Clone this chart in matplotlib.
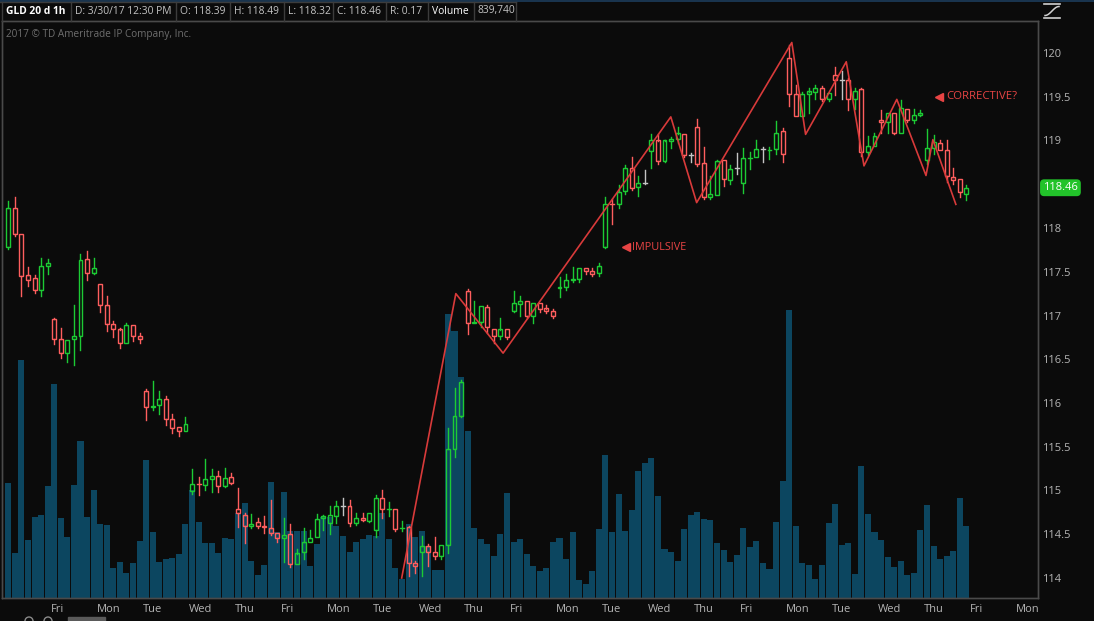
import matplotlib.pyplot as plt
import numpy as np
from matplotlib.patches import Rectangle
from matplotlib.lines import Line2D
import matplotlib.transforms as mtransforms

plt.rcParams['font.family'] = ['Open Sans', 'DejaVu Sans']

# ---- hourly GLD bars ----
opens = [117.78, 118.23, 117.93, 117.46, 117.43, 117.29, 117.57,
         116.96, 116.73, 116.57, 116.73, 116.77, 117.65, 117.49,
         117.36, 117.12, 116.90, 116.84, 116.69, 116.89, 116.77,
         116.14, 115.95, 115.98, 116.05, 115.82, 115.72, 115.68,
         114.99, 115.08, 115.06, 115.13, 115.17, 115.05, 115.15,
         114.79, 114.72, 114.59, 114.64, 114.60, 114.57, 114.51,
         114.46, 114.50, 114.16, 114.30, 114.41, 114.47, 114.69,
         114.63, 114.71, 114.82, 114.82, 114.63, 114.69, 114.65,
         114.55, 114.91, 114.79, 114.79, 114.57, 114.58, 114.17,
         114.30, 114.37, 114.30, 114.25, 114.38, 115.48, 115.85,
         117.28, 116.91, 116.93, 117.10, 116.85, 116.77, 116.84,
         117.05, 117.13, 117.16, 116.99, 117.14, 117.08, 117.05,
         117.31, 117.33, 117.40, 117.42, 117.54, 117.51, 117.49,
         117.78, 118.27, 118.27, 118.42, 118.69, 118.47, 118.52,
         118.88, 119.00, 118.77, 119.00, 119.02, 119.07, 118.83,
         119.16, 118.74, 118.35, 118.38, 118.78, 118.55, 118.68,
         118.51, 118.80, 118.81, 118.90, 118.89, 118.90, 119.11,
         119.94, 119.53, 119.28, 119.53, 119.55, 119.60, 119.48,
         119.75, 119.69, 119.69, 119.47, 119.59, 118.87, 118.94,
         119.23, 119.21, 119.31, 119.09, 119.36, 119.24, 119.29,
         118.78, 118.91, 118.97, 118.89, 118.58, 118.56, 118.39]
highs = [118.31, 118.35, 117.93, 117.55, 117.46, 117.66, 117.65,
         116.97, 116.86, 116.72, 117.12, 117.70, 117.74, 117.66,
         117.36, 117.22, 116.94, 116.86, 116.91, 116.89, 116.80,
         116.16, 116.25, 116.14, 116.08, 115.88, 115.72, 115.84,
         115.25, 115.15, 115.36, 115.25, 115.22, 115.26, 115.20,
         115.03, 114.74, 114.73, 114.69, 114.71, 114.89, 114.51,
         114.68, 114.62, 114.33, 114.57, 114.55, 114.73, 114.72,
         114.82, 114.88, 114.91, 114.89, 114.74, 114.74, 114.74,
         114.95, 115.01, 114.87, 114.79, 114.65, 114.60, 114.20,
         114.48, 114.39, 114.47, 114.38, 115.71, 116.17, 116.26,
         117.30, 117.17, 117.11, 117.12, 116.85, 116.97, 116.84,
         117.28, 117.22, 117.16, 117.14, 117.14, 117.12, 117.07,
         117.44, 117.47, 117.55, 117.54, 117.54, 117.54, 117.60,
         118.35, 118.33, 118.49, 118.72, 118.81, 118.59, 118.66,
         119.08, 119.07, 119.01, 119.04, 119.16, 119.07, 118.86,
         119.25, 118.93, 118.60, 118.78, 118.78, 118.72, 118.86,
         118.92, 118.87, 119.01, 118.93, 118.93, 119.22, 119.14,
         120.09, 119.63, 119.55, 119.60, 119.63, 119.62, 119.54,
         119.84, 119.79, 119.72, 119.60, 119.60, 119.05, 119.09,
         119.35, 119.31, 119.32, 119.46, 119.36, 119.36, 119.35,
         119.13, 119.06, 119.01, 119.01, 118.69, 118.56, 118.49]
lows = [117.76, 117.91, 117.22, 117.34, 117.26, 117.22, 117.48,
        116.67, 116.51, 116.47, 116.44, 116.61, 117.41, 117.47,
        117.04, 116.82, 116.75, 116.63, 116.69, 116.71, 116.68,
        115.81, 115.92, 115.88, 115.75, 115.66, 115.62, 115.68,
        114.96, 114.95, 115.01, 114.98, 114.98, 115.04, 115.07,
        114.58, 114.40, 114.57, 114.57, 114.51, 114.49, 114.41,
        114.18, 114.13, 114.16, 114.22, 114.41, 114.47, 114.55,
        114.50, 114.63, 114.72, 114.59, 114.61, 114.65, 114.64,
        114.47, 114.69, 114.71, 114.54, 114.54, 114.02, 114.06,
        114.02, 114.14, 114.22, 114.22, 114.29, 115.38, 115.84,
        116.79, 116.91, 116.87, 116.80, 116.69, 116.73, 116.73,
        117.04, 116.99, 116.97, 116.91, 117.04, 117.03, 116.97,
        117.21, 117.29, 117.38, 117.38, 117.47, 117.45, 117.45,
        117.77, 118.04, 118.23, 118.39, 118.43, 118.37, 118.50,
        118.68, 118.73, 118.75, 118.91, 118.97, 118.81, 118.76,
        118.71, 118.33, 118.33, 118.38, 118.48, 118.50, 118.62,
        118.40, 118.67, 118.81, 118.75, 118.79, 118.85, 118.75,
        119.40, 119.28, 119.28, 119.32, 119.47, 119.45, 119.45,
        119.52, 119.48, 119.35, 119.36, 118.82, 118.83, 118.94,
        119.09, 119.09, 119.07, 119.09, 119.21, 119.20, 119.28,
        118.73, 118.85, 118.89, 118.53, 118.50, 118.36, 118.32]
closes = [118.23, 117.93, 117.45, 117.41, 117.29, 117.57, 117.60,
          116.73, 116.57, 116.72, 116.76, 117.63, 117.49, 117.54,
          117.12, 116.90, 116.85, 116.68, 116.89, 116.77, 116.73,
          115.95, 115.97, 116.04, 115.82, 115.71, 115.68, 115.76,
          115.07, 115.07, 115.13, 115.17, 115.05, 115.14, 115.09,
          114.74, 114.60, 114.62, 114.60, 114.58, 114.51, 114.46,
          114.49, 114.16, 114.28, 114.41, 114.46, 114.67, 114.71,
          114.72, 114.82, 114.82, 114.63, 114.69, 114.66, 114.74,
          114.91, 114.79, 114.80, 114.56, 114.58, 114.17, 114.14,
          114.37, 114.30, 114.25, 114.38, 115.47, 115.85, 116.24,
          116.91, 116.93, 117.11, 116.87, 116.77, 116.84, 116.75,
          117.14, 117.17, 116.99, 117.14, 117.07, 117.05, 116.99,
          117.33, 117.40, 117.42, 117.54, 117.51, 117.47, 117.57,
          118.28, 118.26, 118.41, 118.69, 118.46, 118.52, 118.52,
          119.01, 118.77, 119.00, 119.02, 119.08, 118.83, 118.83,
          118.73, 118.35, 118.39, 118.77, 118.56, 118.67, 118.68,
          118.80, 118.81, 118.90, 118.90, 118.90, 119.09, 118.85,
          119.53, 119.28, 119.53, 119.56, 119.60, 119.48, 119.54,
          119.69, 119.69, 119.48, 119.57, 118.87, 118.94, 119.05,
          119.21, 119.31, 119.09, 119.37, 119.24, 119.29, 119.31,
          118.91, 118.98, 118.89, 118.59, 118.55, 118.41, 118.46]
# volume in thousands of shares
volumes = [1343, 523, 2784, 676, 945, 969, 1308,
           2503, 933, 711, 1320, 1835, 945, 1261,
           863, 851, 348, 418, 289, 406, 664,
           1613, 769, 418, 453, 465, 512, 863,
           1261, 887, 641, 641, 523, 699, 687,
           992, 1109, 430, 266, 383, 1355, 769,
           1238, 781, 781, 781, 371, 629, 945,
           945, 840, 723, 535, 652, 687, 734,
           723, 992, 687, 348, 219, 863, 711,
           781, 605, 324, 324, 3322, 3123, 2585,
           1952, 816, 687, 629, 488, 746, 1226,
           652, 687, 512, 371, 313, 348, 652,
           699, 453, 769, 207, 160, 313, 805,
           1671, 769, 1214, 781, 1027, 1484, 1577,
           1636, 1191, 570, 535, 430, 805, 969,
           1004, 922, 910, 641, 559, 418, 500,
           816, 594, 664, 406, 336, 887, 1367,
           3369, 840, 406, 383, 219, 383, 875,
           1097, 617, 641, 278, 1542, 980, 769,
           676, 477, 360, 430, 266, 289, 793,
           1086, 605, 453, 488, 547, 1168, 840]

# day labels (bar index where each session starts)
day_starts = [7, 14, 21, 28, 35, 42, 49, 56, 63, 70, 77,
              84, 91, 98, 105, 112, 119, 126, 133, 140, 147, 154]
day_names = ['Fri', 'Mon', 'Tue', 'Wed', 'Thu', 'Fri', 'Mon', 'Tue', 'Wed', 'Thu', 'Fri',
             'Mon', 'Tue', 'Wed', 'Thu', 'Fri', 'Mon', 'Tue', 'Wed', 'Thu', 'Fri', 'Mon']

# hand drawn wave count
wave_x = [59.95, 68.2, 75.4, 100.96, 104.9, 119.4, 121.5, 127.7, 130.4,
          135.4, 139.85, 140.9, 144.4]
wave_y = [114.00, 117.25, 116.57, 119.27, 118.29, 120.12, 119.07, 119.90,
          118.71, 119.47, 118.60, 119.01, 118.27]

price_ticks = [114, 114.5, 115, 115.5, 116, 116.5, 117, 117.5, 118, 118.5, 119, 119.5, 120]

BG = '#0b0b0b'
UP = '#1ccb34'
DOWN = '#ff5e5e'
FLAT = '#c4c4c4'
VOLC = '#0c4660'
GRID = '#4a4a4a'
TXT = '#b4b4b4'

W, H = 1094, 621
fig = plt.figure(figsize=(W / 100, H / 100), dpi=100, facecolor=BG)

# plot box in pixels: x 2..1038, y 21..598
left, right, top, bottom = 2, 1038, 21, 598
ax_v = fig.add_axes([left / W, 1 - bottom / H, (right - left) / W, (bottom - top) / H])
ax_v.set_facecolor(BG)
ax_p = ax_v.twinx()

n = len(opens)
xs = np.arange(n)
x_per_px = 1 / 6.562
ax_v.set_xlim((left - 8.3) * x_per_px, (right - 8.3) * x_per_px)

# volume underneath
ax_v.bar(xs, volumes, width=0.92, color=VOLC, linewidth=0, zorder=1)
ax_v.set_ylim(0, (bottom - top) * 11.711)
ax_v.set_yticks([])

# price candles
p_per_px = 1 / 87.5
ax_p.set_ylim(120 - (bottom - 53) * p_per_px, 120 + (53 - top) * p_per_px)
bw = 0.6
for i in range(n):
    o, h, l, c = opens[i], highs[i], lows[i], closes[i]
    col = UP if c > o else (DOWN if c < o else FLAT)
    lo_b, hi_b = min(o, c), max(o, c)
    if hi_b - lo_b < 0.012:
        ax_p.plot([i - bw / 2, i + bw / 2], [o, o], color=col, lw=1.0, zorder=3)
        ax_p.plot([i, i], [l, h], color=col, lw=1.0, zorder=3)
    else:
        ax_p.add_patch(Rectangle((i - bw / 2, lo_b), bw, hi_b - lo_b, fill=False,
                                 edgecolor=col, lw=1.0, zorder=3))
        if h > hi_b:
            ax_p.plot([i, i], [hi_b, h], color=col, lw=1.0, zorder=3)
        if l < lo_b:
            ax_p.plot([i, i], [l, lo_b], color=col, lw=1.0, zorder=3)

ax_p.plot(wave_x, wave_y, color='#d83a3a', lw=1.2, zorder=4)

# annotations
ax_p.plot([94.1], [117.78], marker='<', color='#e84444', markersize=6, zorder=5)
ax_p.text(95.05, 117.78, 'IMPULSIVE', color='#e84444', fontsize=7.8, va='center', ha='left')
ax_p.plot([141.8], [119.50], marker='<', color='#e84444', markersize=6, zorder=5)
ax_p.text(142.9, 119.50, 'CORRECTIVE?', color='#e84444', fontsize=8.2, va='center', ha='left')

# axes styling (118.5 sits under the last-price tag)
last = closes[-1]
ax_p.set_yticks(price_ticks)
ax_p.set_yticklabels(['' if abs(t - last) < 0.2 else '%g' % t for t in price_ticks])
ax_p.tick_params(axis='y', length=0, pad=3, labelsize=8, labelcolor=TXT)
ax_v.set_xticks([d - 0.5 for d in day_starts])
ax_v.set_xticklabels(day_names)
ax_v.tick_params(axis='x', length=0, pad=4, labelsize=8, labelcolor=TXT)
for lab in ax_v.get_xticklabels():
    lab.set_horizontalalignment('left')
for a in (ax_v, ax_p):
    for s in a.spines.values():
        s.set_color(GRID)
        s.set_linewidth(1)

# last price tag
tag_tr = mtransforms.blended_transform_factory(ax_p.transAxes, ax_p.transData)
ax_p.text(1.0 + 5 / (right - left), last, '%.2f' % last, transform=tag_tr, color='white',
          fontsize=8, va='center', ha='left', zorder=6,
          bbox=dict(boxstyle='round,pad=0.2,rounding_size=0.3', fc='#22c32a', ec='#22c32a'))

# header strip and decorations in pixel space
hd = fig.add_axes([0, 0, 1, 1], zorder=10)
hd.set_xlim(0, W)
hd.set_ylim(H, 0)
hd.axis('off')
hd.patch.set_visible(False)
hd.add_line(Line2D([0, W], [0.5, 0.5], color='#1d3d5c', lw=1.2))
hd.add_line(Line2D([0, 516], [1.5, 1.5], color='#3c3c3c', lw=1))
cells = [2, 71, 176, 230, 284, 333, 386, 428, 474, 516]
for cx in cells:
    hd.add_line(Line2D([cx, cx], [1.5, 20.5], color='#3c3c3c', lw=1))
items = [(6, 'GLD 20 d 1h', 'white', 'bold'),
         (75, 'D: 3/30/17 12:30 PM', '#c4c4c4', 'normal'),
         (180, 'O: 118.39', '#c4c4c4', 'normal'),
         (234, 'H: 118.49', '#c4c4c4', 'normal'),
         (288, 'L: 118.32', '#c4c4c4', 'normal'),
         (337, 'C: 118.46', '#c4c4c4', 'normal'),
         (390, 'R: 0.17', '#c4c4c4', 'normal'),
         (432, 'Volume', 'white', 'normal'),
         (478, '839,740', '#c4c4c4', 'normal')]
for tx, s, col, wt in items:
    hd.text(tx, 11, s, color=col, fontsize=7.4, fontweight=wt, va='center', ha='left')
hd.text(6, 34, '2017 \u00a9 TD Ameritrade IP Company, Inc.', color='#6e6e6e', fontsize=7.2,
        va='center', ha='left')

# chart-style icon top right
hd.add_line(Line2D([1044, 1060], [4, 4], color='#d0d0d0', lw=1.2))
hd.add_line(Line2D([1044, 1060], [18, 18], color='#d0d0d0', lw=1.2))
t = np.linspace(0, 1, 30)
hd.plot(1045 + 14 * t, 15.5 - 9 * (0.5 - 0.5 * np.cos(np.pi * t)), color='#d0d0d0', lw=1.1)

# toolbar stub at very bottom
hd.add_patch(Rectangle((68, 617), 37, 4, color='#5a5a5a'))
for cx in (29, 48):
    hd.add_patch(plt.Circle((cx, 621), 4, fill=False, ec='#8a8a8a', lw=1))

fig.savefig('out.png', dpi=100, facecolor=BG)
